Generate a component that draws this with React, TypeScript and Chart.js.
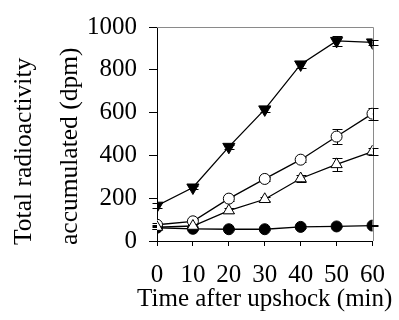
import React, { useEffect, useRef } from "react";
import { Chart, registerables } from "chart.js";

Chart.register(...registerables);

// ---- data ----
const times = [0, 10, 20, 30, 40, 50, 60];
const openTriangle = [65, 70, 142, 195, 292, 358, 418];
const openTriangleErr = [8, 8, 10, 10, 15, 32, 18];
const openCircle = [76, 92, 198, 290, 380, 488, 595];
const openCircleErr = [8, 10, 10, 10, 12, 34, 28];
const filledTriangleDown = [165, 250, 440, 615, 825, 935, 928];
const filledTriangleDownErr = [12, 8, 10, 10, 18, 25, 12];
const filledCircle = [62, 57, 55, 55, 66, 68, 72];
const filledCircleErr = [4, 4, 4, 4, 4, 4, 4];

const yTitle = ["Total radioactivity", "accumulated (dpm)"];
const xTitle = "Time after upshock (min)";

const FONT = "'Liberation Serif', 'Times New Roman', serif";

const toPoints = (ys: number[]) => times.map((t, i) => ({ x: t, y: ys[i] }));

const errorBars = {
  id: "errorBars",
  beforeDatasetsDraw(chart: any) {
    const { ctx, scales } = chart;
    const x = scales.x;
    const y = scales.y;
    ctx.save();
    ctx.strokeStyle = "#000";
    ctx.lineWidth = 1;
    chart.data.datasets.forEach((ds: any) => {
      const errs: number[] = ds.errors || [];
      ds.data.forEach((p: any, i: number) => {
        const e = errs[i] || 0;
        if (!e) return;
        const px = Math.round(x.getPixelForValue(p.x)) + 0.5;
        const yt = Math.round(y.getPixelForValue(p.y + e)) + 0.5;
        const yb = Math.round(y.getPixelForValue(p.y - e)) + 0.5;
        ctx.beginPath();
        ctx.moveTo(px, yt);
        ctx.lineTo(px, yb);
        ctx.moveTo(px - 5, yt);
        ctx.lineTo(px + 5, yt);
        ctx.moveTo(px - 5, yb);
        ctx.lineTo(px + 5, yb);
        ctx.stroke();
      });
    });
    ctx.restore();
  },
};

const frame = {
  id: "frame",
  beforeDatasetsDraw(chart: any) {
    const { ctx, chartArea } = chart;
    ctx.save();
    ctx.strokeStyle = "#8a8a8a";
    ctx.lineWidth = 1;
    const t = Math.round(chartArea.top) + 0.5;
    const r = Math.round(chartArea.right) + 0.5;
    const l = Math.round(chartArea.left);
    const b = Math.round(chartArea.bottom);
    ctx.beginPath();
    ctx.moveTo(l, t);
    ctx.lineTo(r, t);
    ctx.lineTo(r, b);
    ctx.stroke();
    ctx.restore();
  },
};

// Axis titles drawn directly so they can extend past the plot like the original
const axisTitles = {
  id: "axisTitles",
  afterDraw(chart: any) {
    const { ctx, chartArea } = chart;
    ctx.save();
    ctx.fillStyle = "#000";
    ctx.font = `25px ${FONT}`;
    ctx.textAlign = "center";
    ctx.textBaseline = "alphabetic";
    ctx.fillText(xTitle, (chartArea.left + chartArea.right) / 2, chartArea.bottom + 65);

    ctx.font = `25.5px ${FONT}`;
    ctx.textAlign = "left";
    ctx.textBaseline = "middle";
    const startY = chartArea.bottom + 4;
    yTitle.forEach((line, i) => {
      ctx.save();
      ctx.translate(24 + i * 46, startY);
      ctx.rotate(-Math.PI / 2);
      ctx.fillText(line, 0, 0);
      ctx.restore();
    });
    ctx.restore();
  },
};

export default function App() {
  const ref = useRef<HTMLCanvasElement>(null);
  useEffect(() => {
    document.body.style.margin = "0";
    const canvas = ref.current;
    if (!canvas) return;
    const common = {
      borderColor: "#000",
      borderWidth: 1.3,
      pointBorderColor: "#000",
      pointBorderWidth: 1,
      pointHoverRadius: 6,
      tension: 0,
    };
    const chart = new Chart(canvas, {
      type: "line",
      data: {
        datasets: [
          {
            ...common,
            label: "open triangle",
            data: toPoints(openTriangle),
            errors: openTriangleErr,
            pointStyle: "triangle",
            pointRadius: 6.5,
            pointBackgroundColor: "#fff",
          } as any,
          {
            ...common,
            label: "open circle",
            data: toPoints(openCircle),
            errors: openCircleErr,
            pointStyle: "circle",
            pointRadius: 5.5,
            pointBackgroundColor: "#fff",
          } as any,
          {
            ...common,
            label: "filled triangle",
            data: toPoints(filledTriangleDown),
            errors: filledTriangleDownErr,
            pointStyle: "triangle",
            pointRotation: 180,
            pointRadius: 7,
            pointBackgroundColor: "#000",
          } as any,
          {
            ...common,
            label: "filled circle",
            data: toPoints(filledCircle),
            errors: filledCircleErr,
            pointStyle: "circle",
            pointRadius: 5.5,
            pointBackgroundColor: "#000",
          } as any,
        ],
      },
      options: {
        responsive: false,
        devicePixelRatio: 1,
        animation: false,
        layout: { padding: { top: 20, right: 20, left: 0, bottom: 0 } },
        plugins: {
          legend: { display: false },
          tooltip: { enabled: false },
        },
        scales: {
          x: {
            type: "linear",
            min: 0,
            max: 60,
            afterFit: (s: any) => {
              s.height = 79;
            },
            ticks: {
              stepSize: 10,
              color: "#000",
              padding: 14,
              maxRotation: 0,
              callback: (v: any) => String(v),
              font: { family: FONT, size: 25, lineHeight: 1.2 },
            },
            grid: {
              display: true,
              drawOnChartArea: false,
              drawTicks: true,
              tickLength: 5,
              color: "#000",
              lineWidth: 1,
            },
            border: { display: true, color: "#000", width: 1 },
            title: { display: false, text: xTitle },
          },
          y: {
            type: "linear",
            min: 0,
            max: 1000,
            afterFit: (s: any) => {
              s.width = 157;
            },
            ticks: {
              stepSize: 200,
              color: "#000",
              padding: 12,
              callback: (v: any) => String(v),
              font: { family: FONT, size: 25, lineHeight: 1.2 },
            },
            grid: {
              display: true,
              drawOnChartArea: false,
              drawTicks: true,
              tickLength: 8,
              color: "#000",
              lineWidth: 1,
            },
            border: { display: true, color: "#000", width: 1 },
            title: { display: false, text: yTitle },
          },
        },
      },
      plugins: [frame, errorBars, axisTitles],
    } as any);
    return () => chart.destroy();
  }, []);
  return (
    <div style={{ position: "absolute", left: 0, top: 0, width: 399, height: 320 }}>
      <canvas ref={ref} width={399} height={320} />
    </div>
  );
}
